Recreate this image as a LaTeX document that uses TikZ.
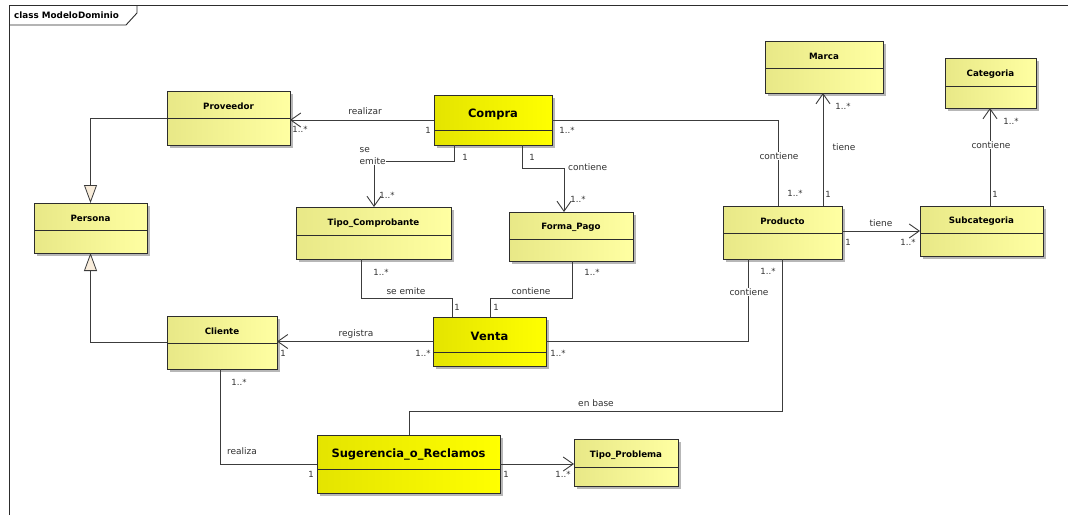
\documentclass[tikz,border=0pt]{standalone}
\usepackage{fontspec}
\setmainfont{DejaVu Sans}
\usetikzlibrary{arrows.meta,shadows}

\definecolor{boxL}{RGB}{232,232,135}
\definecolor{boxR}{RGB}{255,255,162}
\definecolor{keyL}{RGB}{228,228,0}
\definecolor{keyR}{RGB}{255,255,0}
\definecolor{ink}{RGB}{45,45,45}
\definecolor{wire}{RGB}{60,60,60}
\definecolor{txt}{RGB}{50,50,50}
\definecolor{triFill}{RGB}{248,236,218}

\tikzset{
  classbox/.style={draw=ink, line width=0.9pt, inner sep=0pt, outer sep=0pt,
    left color=boxL, right color=boxR,
    drop shadow={shadow xshift=2.5pt, shadow yshift=-2.5pt, fill=black!40, opacity=0.7}},
  keybox/.style={classbox, left color=keyL, right color=keyR},
  classboxtitle/.style={font=\bfseries\fontsize{8.7}{10}\selectfont, text=black, inner sep=0pt},
  keyboxtitle/.style={font=\bfseries\fontsize{11.5}{13}\selectfont, text=black, inner sep=0pt},
  assoc/.style={draw=wire, line width=0.9pt},
  nav/.style={assoc, -{Straight Barb[length=10pt,width=14pt,line width=0.9pt]}},
  gen/.style={assoc, -{Triangle[length=18pt,width=13pt,fill=triFill,line width=0.8pt]}},
  lbl/.style={font=\fontsize{9}{12}\selectfont, text=txt, inner sep=1pt},
  lblw/.style={lbl, fill=white},
  mult/.style={font=\fontsize{8.5}{10}\selectfont, text=txt, inner sep=0pt},
}

% #1 name, #2 style, #3 x1, #4 y1, #5 x2, #6 y2, #7 divider y, #8 class name
\newcommand\umlclass[8]{%
  \node[#2, minimum width={#5-#3}, minimum height={#6-#4}] (#1) at ({(#3+#5)/2},{(#4+#6)/2}) {};
  \draw[ink, line width=0.9pt] (#1.west |- 0,#7) -- (#1.east |- 0,#7);
  \node[#2title] (#1-name) at ({(#3+#5)/2},{(#4+#7)/2+2}) {#8};
}

\begin{document}
\begin{tikzpicture}[x=1pt,y=-1pt]
  \useasboundingbox[fill=white] (0,0) rectangle (1068,515);

  % diagram frame with its name tab
  \draw[ink, line width=0.9pt] (9,515) -- (9,5) -- (1068,5);
  \draw[ink, line width=0.9pt] (9,25) -- (126,25) -- (137,13) -- (137,5);
  \node[anchor=west, font=\bfseries\fontsize{8.8}{10}\selectfont, inner sep=0pt] (frame) at (14,15) {class ModeloDominio};

  % classes
  \umlclass{prov}{classbox}{167}{91}{290}{145}{118}{Proveedor}
  \umlclass{compra}{keybox}{434}{95}{552}{145}{130}{Compra}
  \umlclass{persona}{classbox}{34}{203}{147}{253}{230}{Persona}
  \umlclass{tipoc}{classbox}{296}{207}{451}{259}{235}{Tipo\_Comprobante}
  \umlclass{formap}{classbox}{509}{212}{633}{261}{239}{Forma\_Pago}
  \umlclass{marca}{classbox}{765}{41}{883}{93}{68}{Marca}
  \umlclass{cat}{classbox}{945}{58}{1036}{108}{86}{Categoria}
  \umlclass{prod}{classbox}{723}{206}{842}{259}{233}{Producto}
  \umlclass{subc}{classbox}{920}{206}{1043}{256}{233}{Subcategoria}
  \umlclass{cliente}{classbox}{167}{316}{277}{369}{343}{Cliente}
  \umlclass{venta}{keybox}{433}{317}{546}{366}{352}{Venta}
  \umlclass{sug}{keybox}{317}{435}{500}{493}{469}{Sugerencia\_o\_Reclamos}
  \umlclass{tipop}{classbox}{574}{439}{678}{486}{467}{Tipo\_Problema}

  % generalizations
  \draw[gen] (prov.west) -| (persona.north);
  \draw[gen] (cliente.west) -| (persona.south);

  % associations
  \draw[nav] (compra.west) -- (compra.west -| prov.east);
  \draw[nav] (compra.south -| 454,0) |- (374,161) -- (tipoc.north -| 374,0);
  \draw[nav] (compra.south -| 522,0) |- (564,168) -- (formap.north -| 564,0);
  \draw[assoc] (compra.east) -| (prod.north -| 778,0);
  \draw[nav] (prod.north -| 823,0) -- (marca.south -| 823,0);
  \draw[nav] (subc.north -| 990,0) -- (cat.south -| 990,0);
  \draw[nav] (prod.east |- 0,231) -- (subc.west |- 0,231);
  \draw[nav] (venta.west) -- (venta.west -| cliente.east);
  \draw[assoc] (tipoc.south -| 361,0) |- (452,298) -- (venta.north -| 452,0);
  \draw[assoc] (formap.south -| 572,0) |- (490,298) -- (venta.north -| 490,0);
  \draw[assoc] (venta.east) -| (prod.south -| 748,0);
  \draw[assoc] (prod.south -| 782,0) |- (409,411) -- (sug.north -| 409,0);
  \draw[assoc] (cliente.south -| 220,0) |- (sug.west);
  \draw[nav] (sug.east) -- (sug.east -| tipop.west);

  % association names
  \node[lbl] (n1) at (365,111) {realizar};
  \node[lblw, anchor=west, align=left, inner sep=0.5pt] (n2) at (359,156) {se\\emite};
  \node[lbl, anchor=west] (n3) at (567,167) {contiene};
  \node[lblw] (n4) at (779,156) {contiene};
  \node[lbl] (n5) at (844,147) {tiene};
  \node[lblw] (n6) at (991,145) {contiene};
  \node[lbl] (n7) at (881,223) {tiene};
  \node[lbl] (n8) at (356,334) {registra};
  \node[lbl] (n9) at (406,291) {se emite};
  \node[lbl] (n10) at (531,291) {contiene};
  \node[lblw] (n11) at (749,292) {contiene};
  \node[lbl] (n12) at (596,403) {en base};
  \node[lbl] (n13) at (242,451) {realiza};

  % multiplicities
  \node[mult] (m1) at (300,129) {1..*};
  \node[mult] (m2) at (428,130) {1};
  \node[mult] (m3) at (567,130) {1..*};
  \node[mult] (m4) at (465,157) {1};
  \node[mult] (m5) at (387,195) {1..*};
  \node[mult] (m6) at (532,157) {1};
  \node[mult] (m7) at (578,199) {1..*};
  \node[mult] (m8) at (795,193) {1..*};
  \node[mult] (m9) at (828,194) {1};
  \node[mult] (m10) at (843,106) {1..*};
  \node[mult] (m11) at (995,194) {1};
  \node[mult] (m12) at (1011,121) {1..*};
  \node[mult] (m13) at (848,242) {1};
  \node[mult] (m14) at (908,242) {1..*};
  \node[mult] (m15) at (283,353) {1};
  \node[mult] (m16) at (423,353) {1..*};
  \node[mult] (m17) at (558,353) {1..*};
  \node[mult] (m18) at (381,272) {1..*};
  \node[mult] (m19) at (457,307) {1};
  \node[mult] (m20) at (592,272) {1..*};
  \node[mult] (m21) at (496,307) {1};
  \node[mult] (m22) at (768,271) {1..*};
  \node[mult] (m23) at (239,382) {1..*};
  \node[mult] (m24) at (311,474) {1};
  \node[mult] (m25) at (506,474) {1};
  \node[mult] (m26) at (563,474) {1..*};
\end{tikzpicture}
\end{document}
